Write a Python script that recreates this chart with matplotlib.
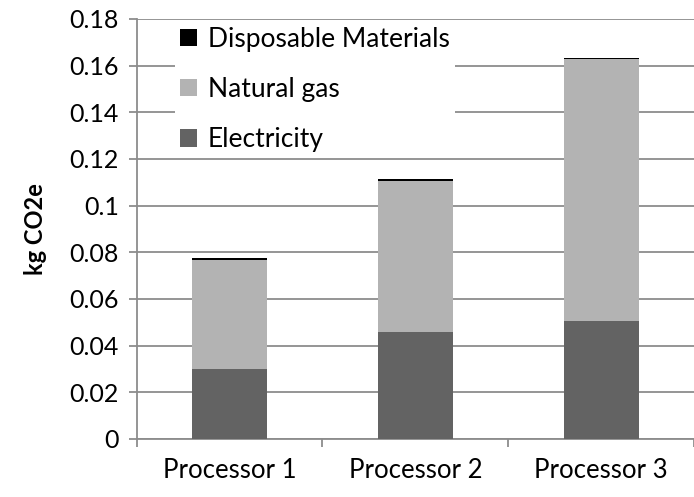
import matplotlib
matplotlib.use("Agg")
import matplotlib.pyplot as plt
import numpy as np

plt.rcParams['font.family'] = ['Lato', 'DejaVu Sans']

# data
processors = ['Processor 1', 'Processor 2', 'Processor 3']
electricity = [0.0300, 0.0460, 0.0505]
natural_gas = [0.0467, 0.0644, 0.1124]
disposable = [0.0008, 0.0008, 0.0003]
y_ticks = [0, 0.02, 0.04, 0.06, 0.08, 0.1, 0.12, 0.14, 0.16, 0.18]
y_tick_labels = ['0', '0.02', '0.04', '0.06', '0.08', '0.1', '0.12', '0.14', '0.16', '0.18']

fig = plt.figure(figsize=(6.94, 4.97), dpi=100)
ax = fig.add_axes([0.197, 0.117, 0.803, 0.845])

x = np.arange(len(processors))
w = 0.405
bottom2 = np.array(electricity)
bottom3 = bottom2 + np.array(natural_gas)
ax.bar(x, electricity, w, color='#636363', label='Electricity', zorder=3)
ax.bar(x, natural_gas, w, bottom=bottom2, color='#b3b3b3', label='Natural gas', zorder=3)
ax.bar(x, disposable, w, bottom=bottom3, color='#000000', label='Disposable Materials', zorder=3)

ax.set_xlim(-0.5, 2.5)
ax.set_ylim(0, 0.18)
ax.set_yticks(y_ticks)
ax.set_yticklabels(y_tick_labels)
ax.yaxis.grid(True, color='#8c8c8c', linewidth=1.3, zorder=0)
ax.set_axisbelow(True)

ax.set_xticks(x)
ax.set_xticklabels(processors)
ax.set_xticks([-0.5, 0.5, 1.5, 2.5], minor=True)
ax.tick_params(axis='x', which='major', length=0, pad=14, labelsize=18.5)
ax.tick_params(axis='x', which='minor', length=6, width=1.3, color='#8c8c8c')
ax.tick_params(axis='y', length=6, width=1.3, color='#8c8c8c', labelsize=18, pad=7)

for s in ['top', 'right']:
    ax.spines[s].set_visible(False)
for s in ['left', 'bottom']:
    ax.spines[s].set_color('#8c8c8c')
    ax.spines[s].set_linewidth(1.3)

ax.set_ylabel('kg CO2e', fontsize=17, fontweight='bold', labelpad=16)

handles, labels = ax.get_legend_handles_labels()
leg = ax.legend(handles[::-1], labels[::-1], loc='upper left', bbox_to_anchor=(0.045, 1.025),
                frameon=True, facecolor='white', edgecolor='none', framealpha=1,
                fontsize=19, handlelength=0.65, handleheight=0.65, handletextpad=0.4,
                labelspacing=0.95, borderpad=0.2)

fig.savefig('out.png', dpi=100)
